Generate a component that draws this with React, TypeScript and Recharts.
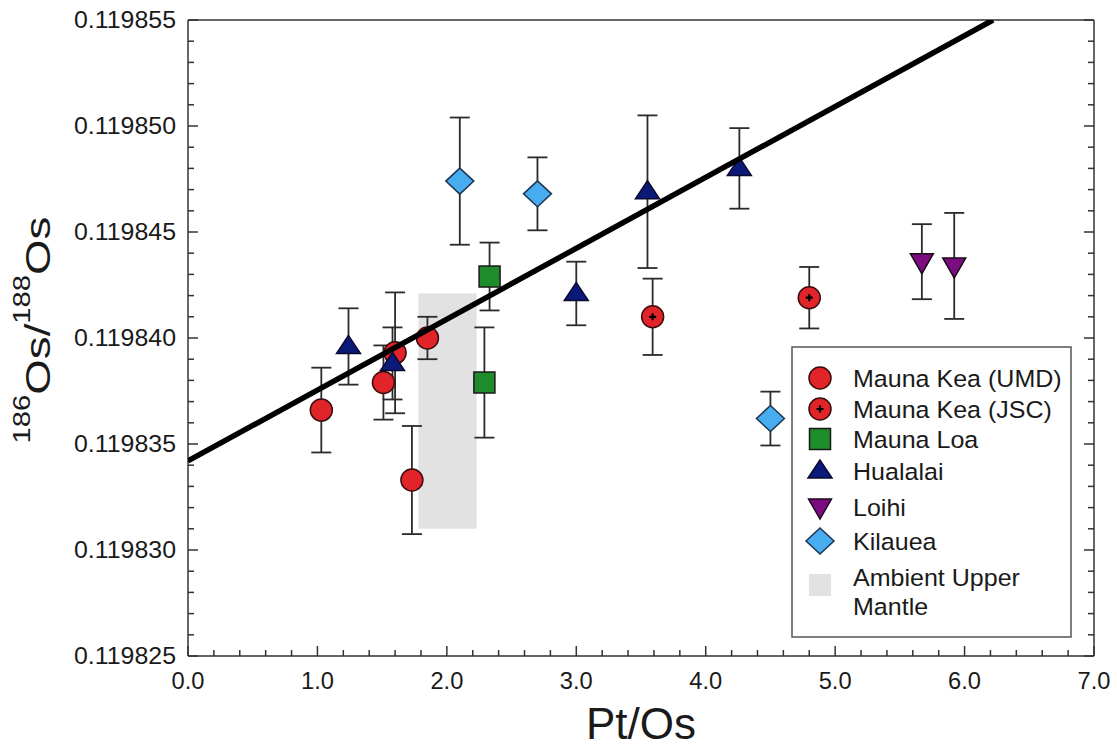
import React from 'react'
import { ScatterChart, Scatter, XAxis, YAxis, ErrorBar, ReferenceArea, Label } from 'recharts'

const FONT = '"Liberation Sans", Arial, Helvetica, sans-serif'
const AXIS = '#333'
const TXT = '#1a1a1a'

// Pt/Os  vs  186Os/188Os, ошибки ±
const UMD_X   = [1.03, 1.51, 1.60, 1.85, 1.73]
const UMD_Y   = [0.1198366, 0.1198379, 0.1198393, 0.1198400, 0.1198333]
const UMD_ERR = [2.0e-6, 1.75e-6, 2.85e-6, 1.0e-6, 2.55e-6]

const JSC_X   = [3.59, 4.80]
const JSC_Y   = [0.1198410, 0.1198419]
const JSC_ERR = [1.8e-6, 1.45e-6]

const LOA_X   = [2.33, 2.29]
const LOA_Y   = [0.1198429, 0.1198379]
const LOA_ERR = [1.6e-6, 2.6e-6]

const HUA_X   = [1.24, 1.58, 3.00, 3.55, 4.26]
const HUA_Y   = [0.1198396, 0.1198388, 0.1198421, 0.1198469, 0.1198480]
const HUA_ERR = [1.8e-6, 1.7e-6, 1.5e-6, 3.6e-6, 1.9e-6]

const LOI_X   = [5.67, 5.92]
const LOI_Y   = [0.1198436, 0.1198434]
const LOI_ERR = [1.77e-6, 2.5e-6]

const KIL_X   = [2.10, 2.70, 4.50]
const KIL_Y   = [0.1198474, 0.1198468, 0.1198362]
const KIL_ERR = [3.0e-6, 1.72e-6, 1.27e-6]

// регрессия
const FIT_X = [0, 6.22]
const FIT_Y = [0.1198342, 0.119855]

// Ambient Upper Mantle
const AUM_X = [1.78, 2.23]
const AUM_Y = [0.119831, 0.1198421]

const X_MAJOR = [0, 1, 2, 3, 4, 5, 6, 7]
const Y_MAJOR = [0.119825, 0.11983, 0.119835, 0.11984, 0.119845, 0.11985, 0.119855]
const MINOR_STEPS = 5

const withMinor = (major: number[]) =>
  major.slice(0, -1).flatMap((v, i) =>
    Array.from({ length: MINOR_STEPS }, (_, k) => v + (k * (major[i + 1] - v)) / MINOR_STEPS)
  ).concat(major[major.length - 1])

const X_TICKS = withMinor(X_MAJOR)
const Y_TICKS = withMinor(Y_MAJOR)

const isMajor = (v: number, major: number[]) => {
  const step = major[1] - major[0]
  return major.some((m) => Math.abs(m - v) < step * 1e-3)
}

const pts = (xs: number[], ys: number[], errs?: number[]) =>
  xs.map((x, i) => ({ x, y: ys[i], err: errs ? errs[i] : 0 }))

// маркеры
const circle = (cx: number, cy: number) => (
  <circle cx={cx} cy={cy} r={11} fill="#e0242a" stroke="#3a0d0d" strokeWidth={1.5} />
)
const circlePlus = (cx: number, cy: number) => (
  <g>
    <circle cx={cx} cy={cy} r={11} fill="#e0242a" stroke="#3a0d0d" strokeWidth={1.5} />
    <path d={`M${cx - 3.5},${cy}H${cx + 3.5}M${cx},${cy - 3.5}V${cy + 3.5}`} stroke="#000" strokeWidth={2.2} />
  </g>
)
const square = (cx: number, cy: number) => (
  <rect x={cx - 10.5} y={cy - 10.5} width={21} height={21} fill="#1f8c2c" stroke="#1a1a1a" strokeWidth={1.5} />
)
const triUp = (cx: number, cy: number) => (
  <polygon points={`${cx},${cy - 11} ${cx - 12},${cy + 7} ${cx + 12},${cy + 7}`} fill="#0b1a78" stroke="#0a0a30" strokeWidth={1.5} />
)
const triDown = (cx: number, cy: number) => (
  <polygon points={`${cx - 11.5},${cy - 8} ${cx + 11.5},${cy - 8} ${cx},${cy + 12}`} fill="#7d0c80" stroke="#1a0a1a" strokeWidth={1.5} />
)
const diamond = (cx: number, cy: number) => (
  <polygon points={`${cx},${cy - 13} ${cx + 14},${cy} ${cx},${cy + 13} ${cx - 14},${cy}`} fill="#47acf0" stroke="#1f3550" strokeWidth={1.5} />
)
const greyBox = (cx: number, cy: number) => (
  <rect x={cx - 11} y={cy - 11} width={22} height={22} fill="#e2e2e2" />
)

const shapeOf = (fn: (cx: number, cy: number) => React.ReactElement) => (p: any) => fn(p.cx, p.cy)

const SERIES = [
  { name: 'Mauna Kea (UMD)', data: pts(UMD_X, UMD_Y, UMD_ERR), mark: circle },
  { name: 'Mauna Kea (JSC)', data: pts(JSC_X, JSC_Y, JSC_ERR), mark: circlePlus },
  { name: 'Mauna Loa',       data: pts(LOA_X, LOA_Y, LOA_ERR), mark: square },
  { name: 'Hualalai',        data: pts(HUA_X, HUA_Y, HUA_ERR), mark: triUp },
  { name: 'Loihi',           data: pts(LOI_X, LOI_Y, LOI_ERR), mark: triDown },
  { name: 'Kilauea',         data: pts(KIL_X, KIL_Y, KIL_ERR), mark: diamond },
]

const BottomTick = (props: any) => {
  const { x, y, payload } = props
  const major = isMajor(payload.value, X_MAJOR)
  return (
    <g>
      <line x1={x} x2={x} y1={y} y2={y - (major ? 10 : 6)} stroke={AXIS} strokeWidth={1.5} />
      {major && (
        <text x={x} y={y + 33} textAnchor="middle" fontSize={23.7} fontFamily={FONT} fill={TXT}>
          {payload.value.toFixed(1)}
        </text>
      )}
    </g>
  )
}

const TopTick = (props: any) => {
  const { x, y, payload } = props
  const major = isMajor(payload.value, X_MAJOR)
  return <line x1={x} x2={x} y1={y} y2={y + (major ? 10 : 6)} stroke={AXIS} strokeWidth={1.5} />
}

const LeftTick = (props: any) => {
  const { x, y, payload } = props
  const major = isMajor(payload.value, Y_MAJOR)
  return (
    <g>
      <line x1={x} x2={x + (major ? 10 : 6)} y1={y} y2={y} stroke={AXIS} strokeWidth={1.5} />
      {major && (
        <text x={x - 114} y={y + 8} fontSize={23} fontFamily={FONT} fill={TXT}
          textLength={102} lengthAdjust="spacingAndGlyphs">
          {payload.value.toFixed(6)}
        </text>
      )}
    </g>
  )
}

const RightTick = (props: any) => {
  const { x, y, payload } = props
  const major = isMajor(payload.value, Y_MAJOR)
  return <line x1={x} x2={x - (major ? 10 : 6)} y1={y} y2={y} stroke={AXIS} strokeWidth={1.5} />
}

const YTitle = (props: any) => {
  const vb = props.viewBox
  const x = vb.x + 50
  const y = 330
  return (
    <text transform={`translate(${x} ${y}) rotate(-90) scale(1.27 1)`} x={0} y={0} textAnchor="middle"
      fontFamily={FONT} fontSize={36} fill={TXT}>
      <tspan fontSize={23} dy={-20}>186</tspan>
      <tspan dy={20}>Os/</tspan>
      <tspan fontSize={23} dy={-20}>188</tspan>
      <tspan dy={20}>Os</tspan>
    </text>
  )
}

const XTitle = (props: any) => {
  const vb = props.viewBox
  return (
    <text x={vb.x + vb.width / 2} y={739} textAnchor="middle" fontFamily={FONT} fontSize={44} fill={TXT}>
      Pt/Os
    </text>
  )
}

const LegendText = ({ y, children }: { y: number; children: React.ReactNode }) => (
  <text transform={`translate(62 ${y}) scale(1.075 1)`} fontSize={23.3} fontFamily={FONT} fill={TXT}>
    {children}
  </text>
)

function LegendBox() {
  const rowY = [32, 63, 93, 125, 161, 195]
  return (
    <svg width={281} height={292} style={{ position: 'absolute', left: 791, top: 346 }}>
      <rect x={1} y={1} width={279} height={290} fill="#fff" stroke="#555" strokeWidth={1.5} />
      {SERIES.map((s, i) => (
        <g key={s.name}>
          {s.mark(29, rowY[i])}
          <LegendText y={rowY[i] + 8.5}>{s.name}</LegendText>
        </g>
      ))}
      {greyBox(29, 239)}
      <LegendText y={240}>Ambient Upper</LegendText>
      <LegendText y={269}>Mantle</LegendText>
    </svg>
  )
}

export default function App() {
  return (
    <div style={{ position: 'absolute', left: 0, top: 0, width: 1117, height: 749, background: '#fff' }}>
      <ScatterChart width={1117} height={749} margin={{ top: 19, right: 22, bottom: 0, left: 0 }}>
        <XAxis xAxisId="b" type="number" dataKey="x" orientation="bottom" domain={[0, 7]} ticks={X_TICKS}
          interval={0} height={93} tickSize={0} tickMargin={0} tickLine={false} tick={<BottomTick />}
          axisLine={{ stroke: AXIS, strokeWidth: 1.5 }} allowDataOverflow>
          <Label content={<XTitle />} />
        </XAxis>
        <XAxis xAxisId="t" type="number" orientation="top" domain={[0, 7]} ticks={X_TICKS}
          interval={0} height={1} tickSize={0} tickMargin={0} tickLine={false} tick={<TopTick />}
          axisLine={{ stroke: AXIS, strokeWidth: 1.5 }} allowDataOverflow />
        <YAxis yAxisId="l" type="number" dataKey="y" orientation="left" domain={[0.119825, 0.119855]} ticks={Y_TICKS}
          interval={0} width={188} tickSize={0} tickMargin={0} tickLine={false} tick={<LeftTick />}
          axisLine={{ stroke: AXIS, strokeWidth: 1.5 }} allowDataOverflow>
          <Label content={<YTitle />} />
        </YAxis>
        <YAxis yAxisId="r" type="number" orientation="right" domain={[0.119825, 0.119855]} ticks={Y_TICKS}
          interval={0} width={1} tickSize={0} tickMargin={0} tickLine={false} tick={<RightTick />}
          axisLine={{ stroke: AXIS, strokeWidth: 1.5 }} allowDataOverflow />

        <ReferenceArea xAxisId="b" yAxisId="l" x1={AUM_X[0]} x2={AUM_X[1]} y1={AUM_Y[0]} y2={AUM_Y[1]}
          fill="#e2e2e2" fillOpacity={1} stroke="none" ifOverflow="visible" />

        {SERIES.map((s) => (
          <Scatter key={s.name} name={s.name} xAxisId="b" yAxisId="l" data={s.data}
            shape={shapeOf(s.mark)} isAnimationActive={false}>
            <ErrorBar dataKey="err" direction="y" width={10} stroke="#2b2b2b" strokeWidth={1.8} isAnimationActive={false} />
          </Scatter>
        ))}

        <Scatter name="fit" xAxisId="b" yAxisId="l" data={pts(FIT_X, FIT_Y)} fill="#000"
          line={{ stroke: '#000', strokeWidth: 5.5 }} shape={() => <g />} isAnimationActive={false} />
      </ScatterChart>
      <LegendBox />
    </div>
  )
}
